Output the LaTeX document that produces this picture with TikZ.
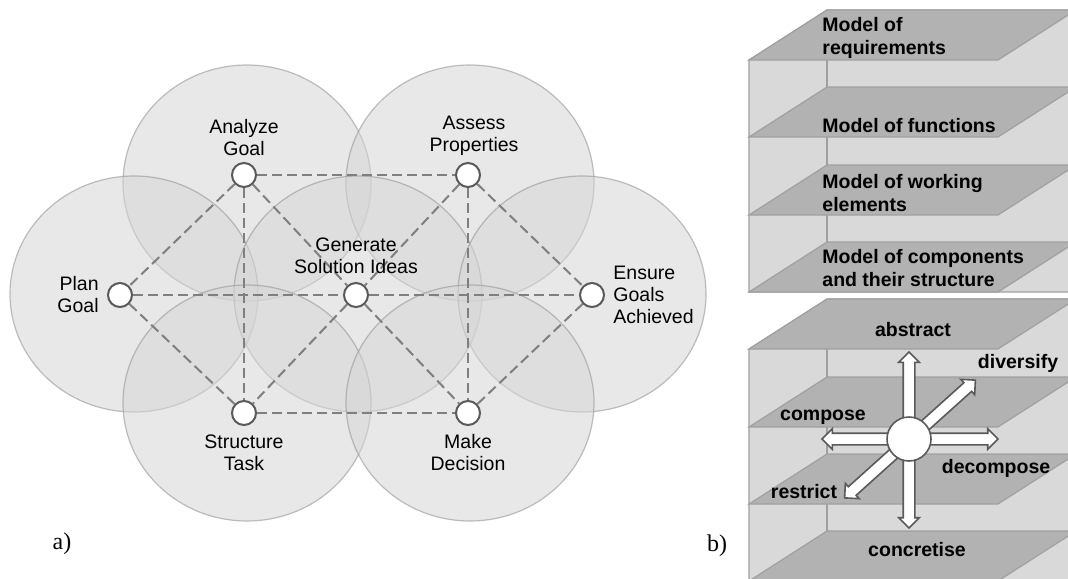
\documentclass[tikz,border=0pt]{standalone}
\usepackage{fontspec}
\setmainfont{Liberation Sans}
\newfontfamily\serifpart{Liberation Serif}
\usetikzlibrary{positioning,shapes.arrows}

\definecolor{circfill}{HTML}{D5D5D5}
\definecolor{circline}{HTML}{969696}
\definecolor{dashcol}{HTML}{7F7F7F}
\definecolor{nodeline}{HTML}{5A5A5A}
\definecolor{wallgray}{HTML}{D9D9D9}
\definecolor{planegray}{HTML}{B2B2B2}
\definecolor{edgegray}{HTML}{A0A0A0}

\begin{document}
\begin{tikzpicture}[x=0.5pt, y=-0.5pt,
    big/.style={fill=circfill, draw=circline, fill opacity=.55, draw opacity=.6, line width=.6pt},
    act/.style={circle, draw=nodeline, fill=white, line width=1pt, minimum size=12pt, inner sep=0},
    lbl/.style={font=\fontsize{9.75}{11}\selectfont, inner sep=0},
    link/.style={draw=dashcol, line width=1pt, dash pattern=on 5pt off 2.5pt},
    wall/.style={fill=wallgray, draw=edgegray, line width=.6pt},
    plane/.style={fill=planegray, draw=edgegray, line width=.6pt},
    mdl/.style={font=\bfseries\fontsize{9.75}{11.5}\selectfont, inner sep=0, align=left, anchor=west},
    dir/.style={font=\bfseries\fontsize{9.75}{11.5}\selectfont, inner sep=0},
    twoway/.style={double arrow, draw=nodeline, fill=white, line width=.8pt, minimum height=88pt,
      inner xsep=0, inner ysep=2.5pt, double arrow head extend=2.25pt}]
  \useasboundingbox (0,0) rectangle (1068,578);
  \clip (0,0) rectangle (1068,578);

  % a) overlapping circles
  \draw[big] (247,183) ellipse [x radius=124, y radius=118];
  \draw[big] (470,183) ellipse [x radius=124, y radius=118];
  \draw[big] (134,294) ellipse [x radius=124, y radius=118];
  \draw[big] (358,294) ellipse [x radius=124, y radius=118];
  \draw[big] (582,294) ellipse [x radius=124, y radius=118];
  \draw[big] (247,403) ellipse [x radius=124, y radius=118];
  \draw[big] (470,403) ellipse [x radius=124, y radius=118];

  \node (ag) at (244,175) [act] {};
  \node (ap) at (468,175) [act] {};
  \node (pg) at (120,295) [act] {};
  \node (gs) at (356,295) [act] {};
  \node (eg) at (592,295) [act] {};
  \node (st) at (244,413) [act] {};
  \node (md) at (468,413) [act] {};

  \draw[link] (ag) -- (ap);
  \draw[link] (ag) -- (pg);
  \draw[link] (ag) -- (gs);
  \draw[link] (ag) -- (st);
  \draw[link] (ap) -- (gs);
  \draw[link] (ap) -- (eg);
  \draw[link] (ap) -- (md);
  \draw[link] (pg) -- (gs);
  \draw[link] (gs) -- (eg);
  \draw[link] (pg) -- (st);
  \draw[link] (gs) -- (st);
  \draw[link] (gs) -- (md);
  \draw[link] (st) -- (md);
  \draw[link] (eg) -- (md);

  \node (agl) [lbl, align=center, above=3pt of ag] {Analyze\\Goal};
  \node (apl) [lbl, align=center, above=3pt of ap, xshift=3pt] {Assess\\Properties};
  \node (pgl) [lbl, align=right, left=4pt of pg] {Plan\\Goal};
  \node (gsl) [lbl, align=center, above=4pt of gs] {Generate\\Solution Ideas};
  \node (egl) [lbl, align=left, right=4pt of eg] {Ensure\\Goals\\Achieved};
  \node (stl) [lbl, align=center, below=4pt of st] {Structure\\Task};
  \node (mdl) [lbl, align=center, below=4pt of md] {Make\\Decision};

  % b) upper block
  \draw[wall] (749,60) -- (827,10) -- (1090,10) -- (1090,292) -- (749,292) -- cycle;
  \draw[edgegray, line width=.6pt] (827,60) -- (827,292);
  \draw[plane] (749,60) -- (827,10) -- (1076,10) -- (998,60) -- cycle;
  \draw[plane] (749,137) -- (827,87) -- (1076,87) -- (998,137) -- cycle;
  \draw[plane] (749,215) -- (827,165) -- (1076,165) -- (998,215) -- cycle;
  \draw[plane] (749,292) -- (827,242) -- (1076,242) -- (998,292) -- cycle;

  \node (req) at (822,38) [mdl] {Model of\\requirements};
  \node (fun) at (822,126) [mdl] {Model of functions};
  \node (wrk) at (822,193) [mdl] {Model of working\\elements};
  \node (cmp) at (822,268) [mdl] {Model of components\\and their structure};

  % b) lower block
  \draw[wall] (749,349) -- (827,299) -- (1090,299) -- (1090,581) -- (749,581) -- cycle;
  \draw[edgegray, line width=.6pt] (827,349) -- (827,581);
  \draw[plane] (749,349) -- (827,299) -- (1076,299) -- (998,349) -- cycle;
  \draw[plane] (749,427) -- (827,377) -- (1076,377) -- (998,427) -- cycle;
  \draw[plane] (749,504) -- (827,454) -- (1076,454) -- (998,504) -- cycle;
  \draw[plane] (749,581) -- (827,531) -- (1076,531) -- (998,581) -- cycle;

  \node (vert) at (909,440) [twoway, rotate=90] {};
  \node (horiz) at (910,439) [twoway] {};
  \node (diag) at (910,439) [twoway, rotate=42] {};
  \node (hub) at (909,439) [circle, draw=nodeline, fill=white, line width=.8pt, minimum size=22pt] {};

  \node (abs) at (913,330) [dir] {abstract};
  \node (div) at (1018,363) [dir] {diversify};
  \node (com) at (823,417) [dir] {compose};
  \node (dec) at (996,468) [dir] {decompose};
  \node (res) at (804,492) [dir] {restrict};
  \node (con) at (917,550) [dir] {concretise};

  \node (pa) at (62,544) [font=\serifpart\fontsize{12}{14}\selectfont] {a)};
  \node (pb) at (717,546) [font=\serifpart\fontsize{12}{14}\selectfont] {b)};
\end{tikzpicture}
\end{document}
